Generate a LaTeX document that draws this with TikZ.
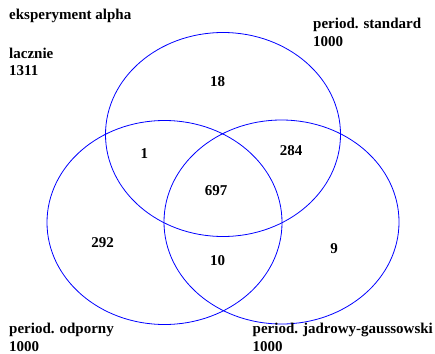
\documentclass[tikz,border=0pt]{standalone}
\usepackage{fontspec}
\setmainfont{Liberation Serif}
\usetikzlibrary{shapes.geometric}

\begin{document}
\begin{tikzpicture}[x=1pt, y=-1pt,
        set/.style = {draw=blue, ellipse, inner sep=0pt, line width=0.8pt,
                      minimum width=235pt, minimum height=204pt},
        num/.style = {font=\bfseries\fontsize{15}{17.5}\selectfont, inner sep=0pt},
        lab/.style = {num, anchor=base west, align=left}]
        \useasboundingbox (0,0) rectangle (435,353);

        \node[set] (std) at (223,134.5) {};
        \node[set] (odp) at (164.5,222.5) {};
        \node[set] (jad) at (281.5,222) {};

        % base of a two line label is the last line
        \node[lab] (title) at (9,20) {eksperyment alpha};
        \node[lab] (total) at (9,75.7) {lacznie\\1311};
        \node[lab] (lstd) at (313,46) {period. standard\\1000};
        \node[lab] (lodp) at (9,351) {period. odporny\\1000};
        \node[lab] (ljad) at (252.5,351) {period. jadrowy-gaussowski\\1000};

        \node[num] (n18) at (217.7,81.7) {18};
        \node[num] (n1) at (144.3,154) {1};
        \node[num] (n284) at (291,150.7) {284};
        \node[num] (n697) at (216,191) {697};
        \node[num] (n292) at (102.7,242.7) {292};
        \node[num] (n10) at (217.7,260.7) {10};
        \node[num] (n9) at (334,248.3) {9};

    \end{tikzpicture}
\end{document}
